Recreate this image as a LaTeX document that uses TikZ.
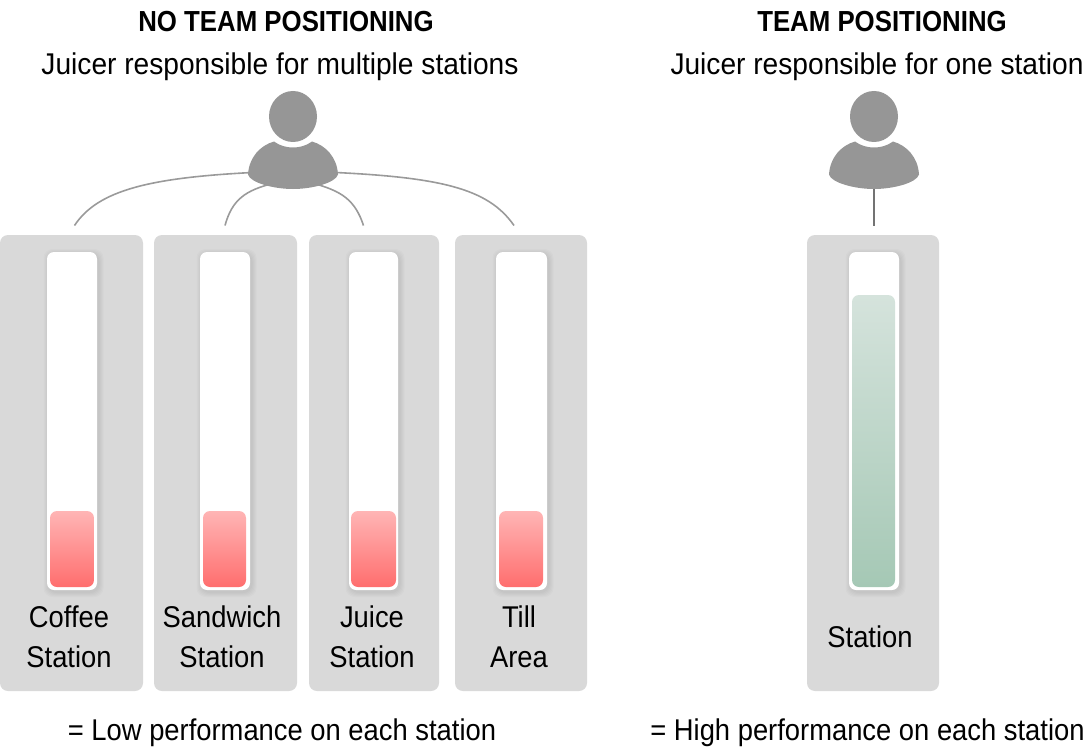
\documentclass[tikz,border=0pt]{standalone}
\usepackage{fontspec}
\usetikzlibrary{calc}
\setmainfont{Liberation Sans}[FakeStretch=0.912]
\newfontfamily\subfont{Liberation Sans}[FakeStretch=0.938]
\newfontfamily\titlefont{Liberation Sans Bold}[FakeStretch=0.89]
\begin{document}
\begin{tikzpicture}[x=1pt,y=-1pt,
  panel/.style={fill=panelgray,rounded corners=8pt,inner sep=0pt,minimum width=#1,minimum height=456pt},
  track/.style={fill=white,rounded corners=7pt,inner sep=0pt,minimum width=#1,minimum height=338pt},
  redfill/.style={rounded corners=7pt,inner sep=0pt,minimum width=#1,minimum height=76pt,top color=redtop,bottom color=redbot,shading angle=0},
  greenfill/.style={rounded corners=7pt,inner sep=0pt,minimum width=#1,minimum height=292pt,top color=greentop,bottom color=greenbot},
  shade1/.style={fill=black,opacity=.016,rounded corners=9pt,inner sep=0pt},
  label/.style={font=\fontsize{30}{40}\selectfont,align=center,text=black,inner sep=0pt},
  sublabel/.style={font=\subfont\fontsize{30}{40}\selectfont,text=black,inner sep=0pt},
  title/.style={font=\titlefont\fontsize{29}{34}\selectfont,text=black,inner sep=0pt},
  link/.style={draw=linegray,line width=1.6pt},
  person/.style={fill=persongray,draw=none},
  anchorbox/.style={inner sep=0pt,minimum width=90pt,minimum height=47pt}
]
\definecolor{panelgray}{HTML}{D9D9D9}
\definecolor{persongray}{HTML}{969696}
\definecolor{linegray}{HTML}{9A9A9A}
\definecolor{redtop}{HTML}{FFB5B5}
\definecolor{redbot}{HTML}{FF6E6E}
\definecolor{greentop}{HTML}{D5E3DC}
\definecolor{greenbot}{HTML}{A5C8B5}
\useasboundingbox (0,0) rectangle (1087,749);
% titles
\node[title] (t1) at (286,21.5) {NO TEAM POSITIONING};
\node[sublabel] (s1) at (280,67) {Juicer responsible for multiple stations};
\node[title] (t2) at (882,21.5) {TEAM POSITIONING};
\node[sublabel] (s2) at (877,67) {Juicer responsible for one station};
% panels
\node[panel=143pt] (p1) at (71.5,463) {};
\node[panel=143pt] (p2) at (225.5,463) {};
\node[panel=130pt] (p3) at (374,463) {};
\node[panel=132pt] (p4) at (521,463) {};
\node[panel=132pt] (p5) at (873,463) {};
% track shadows
\foreach \cx/\w in {72/50,225/50,373.5/49,521.5/51,874/50}{
  \foreach \g in {10,8,6,4,2}{
    \node[shade1,minimum width=\w pt+\g pt,minimum height=338pt+\g pt] at (\cx+1.5,423) {};
  }
}
% tracks
\node[track=50pt] (k1) at (72,421) {};
\node[track=50pt] (k2) at (225,421) {};
\node[track=49pt] (k3) at (373.5,421) {};
\node[track=51pt] (k4) at (521.5,421) {};
\node[track=50pt] (k5) at (874,421) {};
% levels
\node[redfill=44pt] (f1) at (72,549) {};
\node[redfill=43pt] (f2) at (224.5,549) {};
\node[redfill=45pt] (f3) at (373.5,549) {};
\node[redfill=44pt] (f4) at (521,549) {};
\node[greenfill=43pt] (f5) at (873.5,441) {};
% station labels
\node[label] (l1) at (69,637) {Coffee\\Station};
\node[label] (l2) at (222,637) {Sandwich\\Station};
\node[label] (l3) at (372,637) {Juice\\Station};
\node[label] (l4) at (519,637) {Till\\Area};
\node[label] (l5) at (870,637) {Station};
% bottom texts
\node[label] (b1) at (282,733) {= Low performance on each station};
\node[label] (b2) at (867.5,733) {= High performance on each station};
% people anchors
\node[anchorbox] (u1) at (293,165.5) {};
\node[anchorbox] (u2) at (874,165.5) {};
% connector ends
\coordinate (c1) at (74.5,225.5);
\coordinate (c2) at (225,225.5);
\coordinate (c3) at (363.5,225.5);
\coordinate (c4) at (514,225.5);
\coordinate (c5) at (874,225.5);
\coordinate (a1) at ($(u1.center)+(-30,6.5)$);
\coordinate (a2) at ($(u1.center)+(-18,17.5)$);
\coordinate (a3) at ($(u1.center)+(19,17.5)$);
\coordinate (a4) at ($(u1.center)+(32,6.5)$);
% connectors
\draw[link] (c1) .. controls (98,190) and (150,177) .. (a1);
\draw[link] (c2) .. controls (232,200) and (245,190) .. (a2);
\draw[link] (c3) .. controls (355,200) and (342,191) .. (a3);
\draw[link] (c4) .. controls (488,188) and (440,177) .. (a4);
\draw[draw=black!55,line width=1.6pt] (c5) -- (u2.center);
% people
\foreach \n in {u1,u2}{
  \begin{scope}[shift={(\n.center)}]
    \fill[person] (0,-49) ellipse [x radius=24pt,y radius=25.5pt];
    \fill[person] (-19,-24) .. controls (-13,-19.5) and (-6,-18) .. (0,-18)
      .. controls (6,-18) and (13,-19.5) .. (19,-24)
      .. controls (33,-20) and (44,-8) .. (45,9)
      .. controls (43,17) and (20,23.5) .. (0,23.5)
      .. controls (-20,23.5) and (-43,17) .. (-45,9)
      .. controls (-44,-8) and (-33,-20) .. (-19,-24) -- cycle;
  \end{scope}
}
\end{tikzpicture}
\end{document}
